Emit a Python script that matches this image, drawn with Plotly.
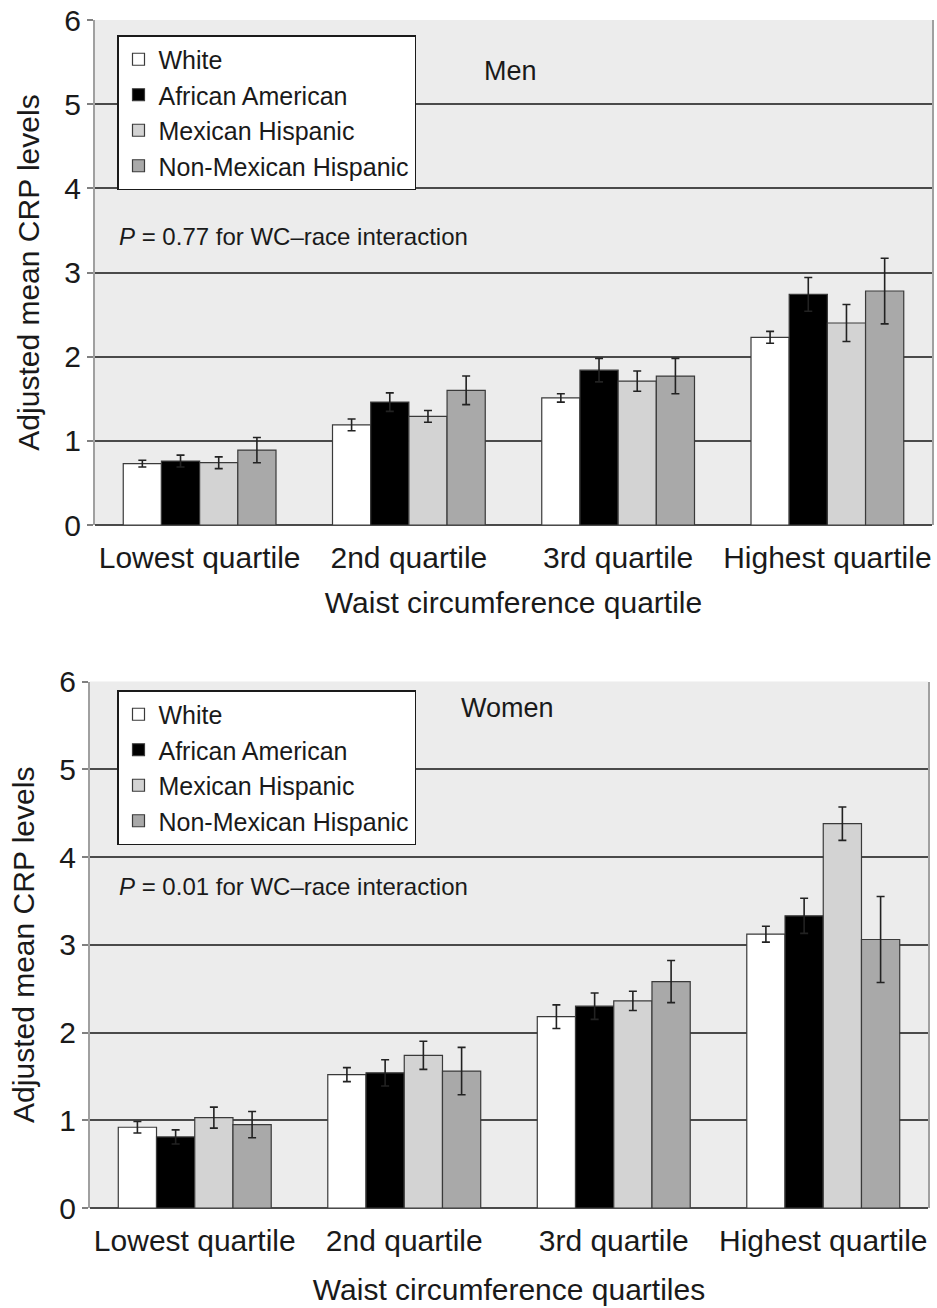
import plotly.graph_objects as go

categories = ["Lowest quartile", "2nd quartile", "3rd quartile", "Highest quartile"]
groups = ["White", "African American", "Mexican Hispanic", "Non-Mexican Hispanic"]
colors = ["#ffffff", "#000000", "#d3d3d3", "#a9a9a9"]

men_white = [0.73, 1.19, 1.51, 2.23]
men_aa = [0.76, 1.46, 1.84, 2.74]
men_mex = [0.74, 1.29, 1.71, 2.40]
men_nonmex = [0.89, 1.60, 1.77, 2.78]
men_white_err = [0.04, 0.07, 0.05, 0.07]
men_aa_err = [0.07, 0.11, 0.14, 0.20]
men_mex_err = [0.07, 0.07, 0.12, 0.22]
men_nonmex_err = [0.15, 0.17, 0.21, 0.39]

women_white = [0.92, 1.52, 2.18, 3.12]
women_aa = [0.81, 1.54, 2.30, 3.33]
women_mex = [1.03, 1.74, 2.36, 4.38]
women_nonmex = [0.95, 1.56, 2.58, 3.06]
women_white_err = [0.065, 0.08, 0.135, 0.09]
women_aa_err = [0.08, 0.15, 0.15, 0.20]
women_mex_err = [0.12, 0.16, 0.11, 0.19]
women_nonmex_err = [0.15, 0.27, 0.24, 0.49]

y_ticks = [0, 1, 2, 3, 4, 5, 6]

FONT = "Liberation Sans, Arial, Helvetica, sans-serif"
TXT = "#1a1a1a"

men_vals = [men_white, men_aa, men_mex, men_nonmex]
men_errs = [men_white_err, men_aa_err, men_mex_err, men_nonmex_err]
women_vals = [women_white, women_aa, women_mex, women_nonmex]
women_errs = [women_white_err, women_aa_err, women_mex_err, women_nonmex_err]

fig = go.Figure()

for i, g in enumerate(groups):
    fig.add_trace(go.Bar(
        x=categories, y=men_vals[i], name=g,
        marker=dict(color=colors[i], line=dict(color="#3a3a3a", width=1.2)),
        error_y=dict(type="data", array=men_errs[i], visible=True,
                     color="#222222", thickness=1.6, width=4),
        xaxis="x", yaxis="y", legend="legend",
    ))
for i, g in enumerate(groups):
    fig.add_trace(go.Bar(
        x=categories, y=women_vals[i], name=g,
        marker=dict(color=colors[i], line=dict(color="#3a3a3a", width=1.2)),
        error_y=dict(type="data", array=women_errs[i], visible=True,
                     color="#222222", thickness=1.6, width=4),
        xaxis="x2", yaxis="y2", legend="legend2",
    ))

W, H = 937, 1308

def xaxis_cfg(domain, anchor, title, standoff):
    return dict(
        domain=domain, anchor=anchor, type="category",
        showgrid=False, showline=False, zeroline=False,
        ticks="outside", ticklen=6, tickcolor="rgba(0,0,0,0)",
        tickfont=dict(family=FONT, size=30, color=TXT),
        title=dict(text=title, font=dict(family=FONT, size=30, color=TXT), standoff=standoff),
        automargin=False, fixedrange=True,
    )

def yaxis_cfg(domain, anchor):
    return dict(
        domain=domain, anchor=anchor, range=[0, 6], tickvals=y_ticks,
        showgrid=True, gridcolor="#4a4a4a", gridwidth=1.6,
        zeroline=True, zerolinecolor="#4a4a4a", zerolinewidth=2,
        showline=True, linecolor="#a0a0a0", linewidth=2, mirror=True,
        ticks="outside", ticklen=6, tickcolor="#808080", tickwidth=1.5,
        tickfont=dict(family=FONT, size=30, color=TXT),
        title=dict(text="Adjusted mean CRP levels", font=dict(family=FONT, size=30, color=TXT), standoff=16),
        automargin=False, fixedrange=True,
    )

legend_common = dict(
    xanchor="left", yanchor="top", bgcolor="#ffffff",
    bordercolor="#1a1a1a", borderwidth=1.5,
    font=dict(family=FONT, size=25, color=TXT), traceorder="normal",
)

fig.update_layout(
    width=W, height=H,
    margin=dict(l=0, r=0, t=0, b=0),
    paper_bgcolor="#ffffff",
    plot_bgcolor="#ececec",
    barmode="group", bargap=0.27, bargroupgap=0,
    xaxis=xaxis_cfg([95 / W, 932 / W], "y", "Waist circumference quartile", 18),
    yaxis=yaxis_cfg([1 - 525 / H, 1 - 20 / H], "x"),
    xaxis2=xaxis_cfg([90 / W, 928 / W], "y2", "Waist circumference quartiles", 22),
    yaxis2=yaxis_cfg([1 - 1208 / H, 1 - 681.5 / H], "x2"),
    legend=dict(x=117 / W, y=1 - 35 / H, **legend_common),
    legend2=dict(x=117 / W, y=1 - 690 / H, **legend_common),
    showlegend=True,
    annotations=[
        dict(text="Men", x=510 / W, y=1 - 71 / H, xref="paper", yref="paper",
             xanchor="center", yanchor="middle",
             showarrow=False, font=dict(family=FONT, size=27, color=TXT)),
        dict(text="Women", x=507 / W, y=1 - 708 / H, xref="paper", yref="paper",
             xanchor="center", yanchor="middle",
             showarrow=False, font=dict(family=FONT, size=27, color=TXT)),
        dict(text="<i>P</i> = 0.77 for WC–race interaction", x=117 / W, y=1 - 237 / H,
             xref="paper", yref="paper", xanchor="left", yanchor="middle", showarrow=False,
             font=dict(family=FONT, size=24, color=TXT)),
        dict(text="<i>P</i> = 0.01 for WC–race interaction", x=117 / W, y=1 - 886 / H,
             xref="paper", yref="paper", xanchor="left", yanchor="middle", showarrow=False,
             font=dict(family=FONT, size=24, color=TXT)),
    ],
)

fig.write_html("out.html")
